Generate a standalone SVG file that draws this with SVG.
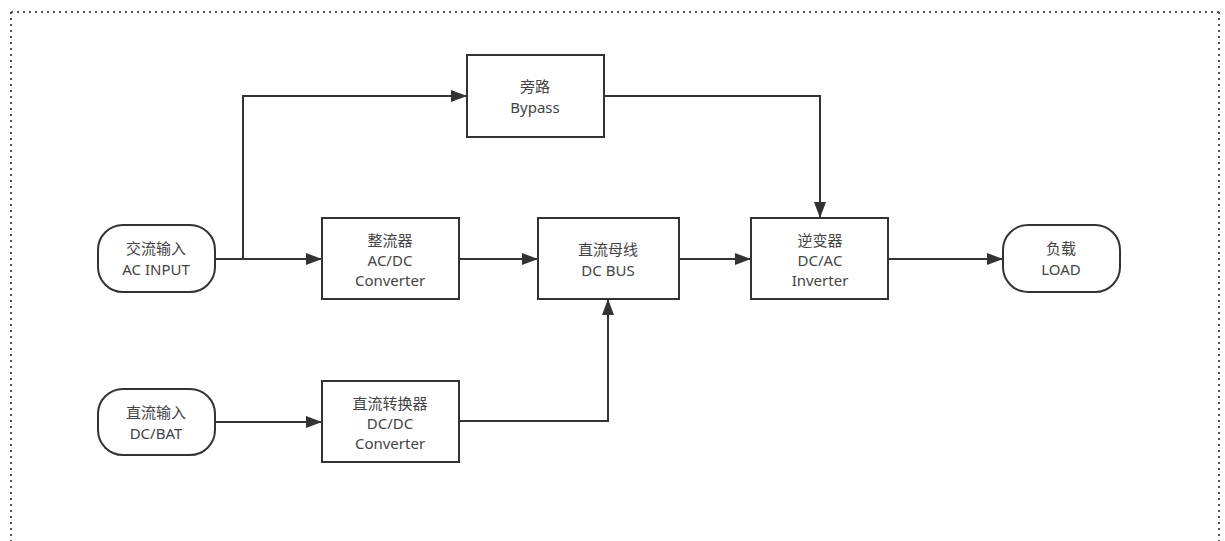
<svg xmlns="http://www.w3.org/2000/svg" width="1225" height="541" viewBox="0 0 1225 541">
<defs>
<marker id="ah" markerWidth="16" markerHeight="12" refX="16" refY="6" orient="auto" markerUnits="userSpaceOnUse" viewBox="0 0 16 12">
<path d="M0,0 L16,6 L0,12 z" fill="#333"/>
</marker>
<style>
.box{fill:#fff;stroke:#333;stroke-width:2}
.t{font-family:"Noto Sans","Noto Sans CJK SC",sans-serif;font-size:15px;fill:#444;text-anchor:middle}
.c{fill:none;stroke:#333;stroke-width:2;marker-end:url(#ah)}
.l{fill:none;stroke:#333;stroke-width:2}
</style>
</defs>
<rect x="0" y="0" width="1225" height="541" fill="#fff"/>
<path d="M11,12 H1219 M11,12 V541 M1219,12 V541" fill="none" stroke="#555" stroke-width="2" stroke-dasharray="2,4"/>
<g id="connectors">
<path class="l" d="M215,259 H243"/>
<path class="c" d="M243,259 V96 H467"/>
<path class="c" d="M243,259 H322"/>
<path class="c" d="M459,259 H538"/>
<path class="c" d="M679,259 H751"/>
<path class="c" d="M604,96 H820 V218"/>
<path class="c" d="M888,259 H1003"/>
<path class="c" d="M215,422 H322"/>
<path class="c" d="M459,421 H608 V299"/>
</g>
<g id="ac-input">
<rect class="box" x="98" y="225" width="117" height="67" rx="25"/>
<text class="t" x="156" y="254">交流输入</text>
<text class="t" x="156" y="275">AC INPUT</text>
</g>
<g id="bypass">
<rect class="box" x="467" y="55" width="137" height="82"/>
<text class="t" x="535" y="92">旁路</text>
<text class="t" x="535" y="113">Bypass</text>
</g>
<g id="rectifier">
<rect class="box" x="322" y="218" width="137" height="81"/>
<text class="t" x="390" y="246">整流器</text>
<text class="t" x="390" y="266">AC/DC</text>
<text class="t" x="390" y="286">Converter</text>
</g>
<g id="dc-bus">
<rect class="box" x="538" y="218" width="141" height="81"/>
<text class="t" x="608" y="255">直流母线</text>
<text class="t" x="608" y="276">DC BUS</text>
</g>
<g id="inverter">
<rect class="box" x="751" y="218" width="137" height="81"/>
<text class="t" x="820" y="246">逆变器</text>
<text class="t" x="820" y="266">DC/AC</text>
<text class="t" x="820" y="286">Inverter</text>
</g>
<g id="load">
<rect class="box" x="1003" y="225" width="117" height="67" rx="25"/>
<text class="t" x="1061" y="254">负载</text>
<text class="t" x="1061" y="275">LOAD</text>
</g>
<g id="dc-input">
<rect class="box" x="98" y="389" width="117" height="66" rx="25"/>
<text class="t" x="156" y="418">直流输入</text>
<text class="t" x="156" y="439">DC/BAT</text>
</g>
<g id="dcdc">
<rect class="box" x="322" y="381" width="137" height="81"/>
<text class="t" x="390" y="409">直流转换器</text>
<text class="t" x="390" y="429">DC/DC</text>
<text class="t" x="390" y="449">Converter</text>
</g>
</svg>
